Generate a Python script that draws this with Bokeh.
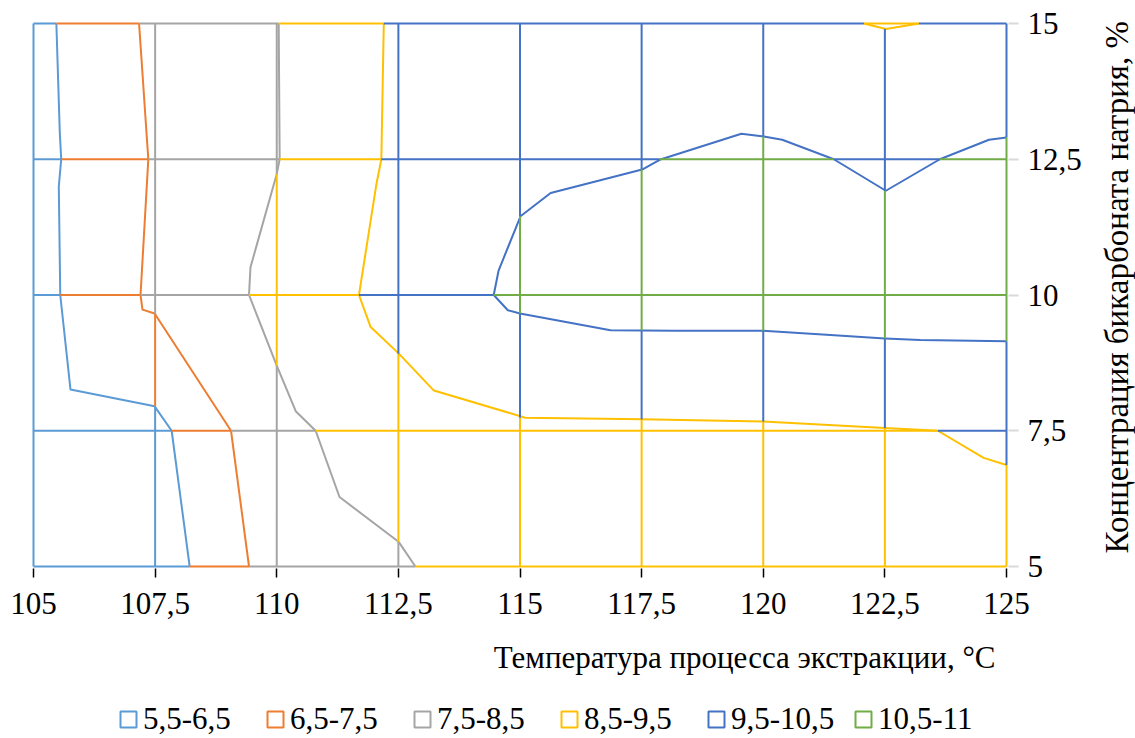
import math
from bokeh.plotting import figure
from bokeh.layouts import row, column
from bokeh.models import (FixedTicker, CustomJSTickFormatter, Legend, LegendItem, Label, Range1d)
from bokeh.embed import file_html
from bokeh.resources import INLINE

# ---------------- data ----------------
x_ticks = [105, 107.5, 110, 112.5, 115, 117.5, 120, 122.5, 125]
y_ticks = [5, 7.5, 10, 12.5, 15]

band_labels = ["5,5-6,5", "6,5-7,5", "7,5-8,5", "8,5-9,5", "9,5-10,5", "10,5-11"]
band_colors = ["#5B9BD5", "#ED7D31", "#A5A5A5", "#FFC000", "#4472C4", "#70AD47"]

# contour lines (temperature, concentration)
c65_x = [108.21, 107.84, 107.49, 105.76, 105.55, 105.52, 105.57, 105.54, 105.47]
c65_y = [5, 7.5, 7.95, 8.26, 10, 12.0, 12.5, 13.0, 15]

c75_x = [109.43, 109.06, 107.49, 107.24, 107.2, 107.36, 107.17]
c75_y = [5, 7.5, 9.66, 9.73, 10, 12.5, 15]

c85_x = [112.85, 112.51, 111.29, 110.80, 110.39, 110.0, 109.43, 109.46, 110.0, 110.06, 110.04]
c85_y = [5, 5.45, 6.28, 7.5, 7.86, 8.70, 10, 10.51, 12.23, 12.5, 15]

c95_x = [112.2, 112.15, 112.05, 111.69, 111.93, 112.51, 113.23, 115.11, 117.5, 120.0, 122.5, 123.59, 124.53, 125.0]
c95_y = [15, 12.5, 12.05, 10, 9.41, 8.92, 8.24, 7.74, 7.71, 7.67, 7.55, 7.5, 7.0, 6.87]
c95b_x = [122.07, 122.52, 123.2]
c95b_y = [15, 14.90, 15]

c105a_x = [114.46, 114.75, 115.0, 116.86, 118.2, 120.0, 121.3, 122.5, 123.23, 125.0]
c105a_y = [10, 9.72, 9.66, 9.35, 9.34, 9.34, 9.27, 9.20, 9.17, 9.15]
c105b_x = [114.46, 114.56, 115.01, 115.63, 117.51, 117.87, 119.55, 120.01, 120.39, 121.45, 122.52, 123.63, 124.64, 125.0]
c105b_y = [10, 10.45, 11.45, 11.88, 12.31, 12.49, 12.97, 12.92, 12.86, 12.5, 11.92, 12.5, 12.86, 12.90]

# grid pieces inside each band: vertical (x, y_from, y_to), horizontal (y, x_from, x_to)
band_vert = [
    [(105, 5, 15), (107.5, 5, 7.95)],
    [(107.5, 7.95, 9.66)],
    [(107.5, 9.66, 15), (110, 5, 8.70), (110, 12.23, 15), (112.5, 5, 5.45)],
    [(110, 8.70, 12.23), (112.5, 5.45, 8.92), (115, 5, 7.74), (117.5, 5, 7.71),
     (120, 5, 7.67), (122.5, 5, 7.55), (125, 5, 6.87)],
    [(112.5, 8.92, 15), (115, 7.74, 9.66), (115, 11.45, 15), (117.5, 7.71, 9.35),
     (117.5, 12.31, 15), (120, 7.67, 9.34), (120, 12.92, 15), (122.5, 7.55, 9.20),
     (122.5, 11.92, 14.90), (125, 6.87, 9.15), (125, 12.90, 15)],
    [(115, 9.66, 11.45), (117.5, 9.35, 12.31), (120, 9.34, 12.92),
     (122.5, 9.20, 11.92), (125, 9.15, 12.90)],
]
band_horz = [
    [(5, 105, 108.21), (7.5, 105, 107.84), (10, 105, 105.55), (12.5, 105, 105.57), (15, 105, 105.47)],
    [(5, 108.21, 109.43), (7.5, 107.84, 109.06), (10, 105.55, 107.2), (12.5, 105.57, 107.36), (15, 105.47, 107.17)],
    [(5, 109.43, 112.85), (7.5, 109.06, 110.80), (10, 107.2, 109.43), (12.5, 107.36, 110.06), (15, 107.17, 110.04)],
    [(5, 112.85, 125), (7.5, 110.80, 123.59), (10, 109.43, 111.69), (12.5, 110.06, 112.15),
     (15, 110.04, 112.2), (15, 122.07, 123.2)],
    [(7.5, 123.59, 125), (10, 111.69, 114.46), (12.5, 112.15, 117.87), (12.5, 121.45, 123.63),
     (15, 112.2, 122.07), (15, 123.2, 125)],
    [(10, 114.46, 125), (12.5, 117.87, 121.45), (12.5, 123.63, 125)],
]
band_contours = [
    [(c65_x, c65_y)],
    [(c75_x, c75_y)],
    [(c85_x, c85_y)],
    [(c95_x, c95_y), (c95b_x, c95b_y)],
    [(c105a_x, c105a_y), (c105b_x, c105b_y)],
    [],
]

x_title = "Температура процесса экстракции, °C"
y_title = "Концентрация бикарбоната натрия, %"

FONT = "Liberation Serif"
FS = "31px"

# ---------------- main chart ----------------
dx = 2 / 48.65
dy = 2 / 54.3
W_MAIN, H_MAIN = 1090, 630
p = figure(width=W_MAIN, height=H_MAIN, output_backend="svg", toolbar_location=None,
           x_range=Range1d(105 - dx, 125 + dx), y_range=Range1d(5 - dy, 15 + dy),
           y_axis_location="right",
           min_border_left=31, min_border_top=21, min_border_right=82, min_border_bottom=62)
p.outline_line_color = None
p.xgrid.visible = False
p.ygrid.visible = False
p.background_fill_color = "white"
p.border_fill_color = "white"

xa = p.xaxis[0]
xa.ticker = FixedTicker(ticks=x_ticks)
xa.formatter = CustomJSTickFormatter(code="return tick.toString().replace('.', ',');")
xa.axis_line_color = None
xa.major_tick_line_color = "black"
xa.major_tick_line_width = 1.5
xa.major_tick_out = 9
xa.major_tick_in = 0
xa.minor_tick_line_color = None
xa.major_label_text_font = FONT
xa.major_label_text_font_size = FS
xa.major_label_text_color = "black"
xa.major_label_standoff = 15

ya = p.yaxis[0]
ya.ticker = FixedTicker(ticks=y_ticks)
ya.formatter = CustomJSTickFormatter(code="return tick.toString().replace('.', ',');")
ya.axis_line_color = None
ya.major_tick_line_color = "#D9D9D9"
ya.major_tick_line_width = 2
ya.major_tick_out = 10
ya.major_tick_in = 0
ya.minor_tick_line_color = None
ya.major_label_text_font = FONT
ya.major_label_text_font_size = FS
ya.major_label_text_color = "black"
ya.major_label_standoff = 9

for i in range(len(band_labels)):
    xs, ys = [], []
    for (x, y0, y1) in band_vert[i]:
        xs.append([x, x]); ys.append([y0, y1])
    for (y, x0, x1) in band_horz[i]:
        xs.append([x0, x1]); ys.append([y, y])
    for (cx, cy) in band_contours[i]:
        xs.append(cx); ys.append(cy)
    p.multi_line(xs, ys, line_color=band_colors[i], line_width=2, line_join="round")

# ---------------- right strip: vertical axis title ----------------
W_R = 1135 - W_MAIN
p2 = figure(width=W_R, height=H_MAIN, output_backend="svg", toolbar_location=None,
            x_range=Range1d(0, W_R), y_range=Range1d(0, H_MAIN),
            x_axis_location=None, y_axis_location=None, min_border=0)
p2.outline_line_color = None
p2.grid.visible = False
p2.add_layout(Label(x=26, y=H_MAIN - 306, text=y_title, angle=math.pi / 2,
                    text_align="center", text_baseline="middle",
                    text_font=FONT, text_font_size="33px", text_color="black"))

# ---------------- bottom strip: x title and legend ----------------
H_B = 738 - H_MAIN
p3 = figure(width=1135, height=H_B, output_backend="svg", toolbar_location=None,
            x_range=Range1d(0, 1135), y_range=Range1d(0, H_B),
            x_axis_location=None, y_axis_location=None, min_border=0)
p3.outline_line_color = None
p3.grid.visible = False
p3.add_layout(Label(x=995, y=H_B - 27, text=x_title, text_align="right", text_baseline="middle",
                    text_font=FONT, text_font_size=FS, text_color="black"))

# legend swatches: hollow squares (dummy quads kept outside the visible range)
items = []
for lab, col in zip(band_labels, band_colors):
    r = p3.quad(left=[-60], right=[-50], top=[-50], bottom=[-60], fill_color=None,
                line_color=col, line_width=2)
    items.append(LegendItem(label=lab, renderers=[r]))

leg = Legend(items=items, orientation="horizontal", location=(118, 1),
             label_text_font=FONT, label_text_font_size=FS, label_text_color="black",
             glyph_width=20, glyph_height=20, label_standoff=5, label_width=110, spacing=12,
             padding=0, margin=0, border_line_color=None, background_fill_alpha=0)
p3.add_layout(leg, "center")

layout = column(row(p, p2), p3)
open("out.html", "w").write(file_html(layout, INLINE))
